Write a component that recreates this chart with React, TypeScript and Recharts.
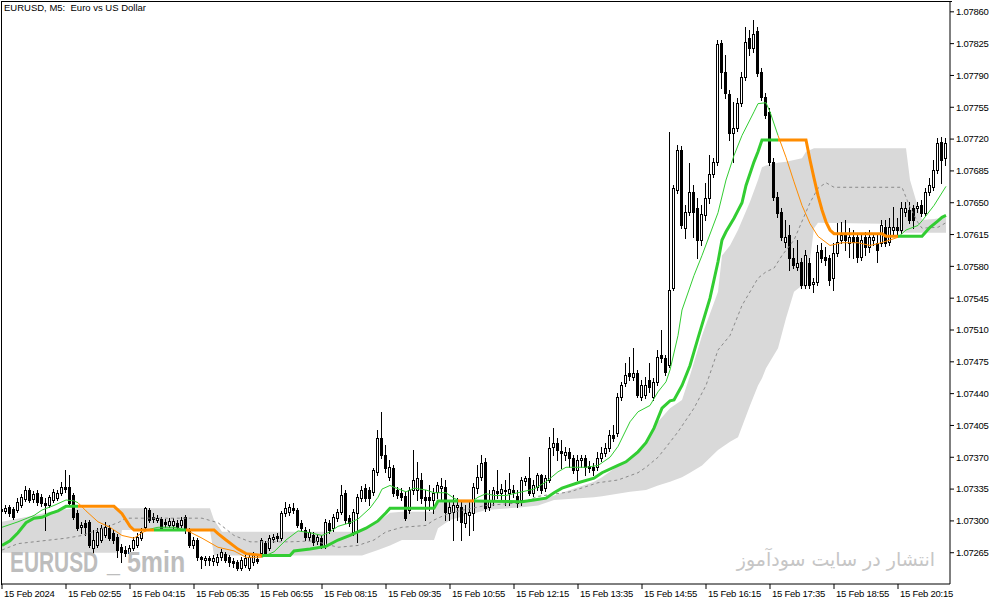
import React from 'react';
import { Area, Bar, ComposedChart, Line, XAxis, YAxis } from 'recharts';

const opens = [
  1.07313, 1.07311, 1.07315, 1.07313, 1.07312, 1.07317, 1.07324, 1.07334, 1.07324, 1.07331,
  1.07326, 1.07320, 1.07317, 1.07323, 1.07325, 1.07331, 1.07337, 1.07337, 1.07328, 1.07309,
  1.07293, 1.07298, 1.07299, 1.07270, 1.07273, 1.07279, 1.07284, 1.07292, 1.07287, 1.07282,
  1.07271, 1.07268, 1.07265, 1.07270, 1.07273, 1.07281, 1.07293, 1.07312, 1.07304, 1.07301,
  1.07302, 1.07299, 1.07295, 1.07295, 1.07298, 1.07295, 1.07304, 1.07290, 1.07273, 1.07279,
  1.07260, 1.07257, 1.07259, 1.07256, 1.07255, 1.07260, 1.07264, 1.07260, 1.07256, 1.07255,
  1.07248, 1.07251, 1.07248, 1.07255, 1.07258, 1.07265, 1.07276, 1.07270, 1.07280, 1.07283,
  1.07281, 1.07309, 1.07310, 1.07314, 1.07312, 1.07298, 1.07290, 1.07282, 1.07284, 1.07278,
  1.07281, 1.07273, 1.07298, 1.07292, 1.07303, 1.07310, 1.07331, 1.07303, 1.07288, 1.07309,
  1.07325, 1.07336, 1.07334, 1.07332, 1.07354, 1.07391, 1.07372, 1.07348, 1.07358, 1.07334,
  1.07331, 1.07327, 1.07312, 1.07334, 1.07334, 1.07345, 1.07326, 1.07326, 1.07323, 1.07332,
  1.07336, 1.07337, 1.07309, 1.07310, 1.07315, 1.07315, 1.07298, 1.07306, 1.07309, 1.07336,
  1.07348, 1.07365, 1.07315, 1.07323, 1.07333, 1.07331, 1.07334, 1.07331, 1.07334, 1.07327,
  1.07323, 1.07344, 1.07347, 1.07331, 1.07337, 1.07350, 1.07336, 1.07345, 1.07381, 1.07386,
  1.07377, 1.07372, 1.07376, 1.07369, 1.07356, 1.07367, 1.07369, 1.07360, 1.07359, 1.07359,
  1.07369, 1.07375, 1.07380, 1.07394, 1.07397, 1.07436, 1.07452, 1.07463, 1.07458, 1.07463,
  1.07436, 1.07438, 1.07455, 1.07436, 1.07453, 1.07482, 1.07479, 1.07471, 1.07556, 1.07664,
  1.07708, 1.07622, 1.07640, 1.07662, 1.07644, 1.07609, 1.07636, 1.07655, 1.07682, 1.07695,
  1.07826, 1.07794, 1.07770, 1.07727, 1.07732, 1.07760, 1.07788, 1.07831, 1.07820, 1.07839,
  1.07794, 1.07766, 1.07750, 1.07695, 1.07656, 1.07640, 1.07607, 1.07614, 1.07589, 1.07579,
  1.07585, 1.07559, 1.07584, 1.07561, 1.07563, 1.07598, 1.07590, 1.07589, 1.07567, 1.07595,
  1.07609, 1.07614, 1.07606, 1.07612, 1.07612, 1.07590, 1.07612, 1.07601, 1.07609, 1.07606,
  1.07606, 1.07623, 1.07607, 1.07620, 1.07623, 1.07620, 1.07640, 1.07642, 1.07644, 1.07644,
  1.07647, 1.07639, 1.07662, 1.07667, 1.07686, 1.07717, 1.07699,
];

const highs = [
  1.07316, 1.07317, 1.07317, 1.07315, 1.07325, 1.07330, 1.07338, 1.07336, 1.07333, 1.07334,
  1.07330, 1.07325, 1.07328, 1.07335, 1.07334, 1.07343, 1.07356, 1.07350, 1.07331, 1.07312,
  1.07299, 1.07301, 1.07301, 1.07290, 1.07292, 1.07295, 1.07299, 1.07295, 1.07290, 1.07286,
  1.07275, 1.07272, 1.07273, 1.07282, 1.07287, 1.07292, 1.07315, 1.07314, 1.07309, 1.07306,
  1.07304, 1.07302, 1.07303, 1.07303, 1.07301, 1.07304, 1.07306, 1.07292, 1.07282, 1.07281,
  1.07261, 1.07261, 1.07261, 1.07262, 1.07264, 1.07269, 1.07266, 1.07262, 1.07259, 1.07257,
  1.07260, 1.07262, 1.07264, 1.07266, 1.07262, 1.07281, 1.07278, 1.07284, 1.07286, 1.07287,
  1.07311, 1.07321, 1.07319, 1.07320, 1.07314, 1.07301, 1.07293, 1.07291, 1.07288, 1.07286,
  1.07284, 1.07302, 1.07301, 1.07308, 1.07313, 1.07339, 1.07334, 1.07306, 1.07313, 1.07330,
  1.07338, 1.07341, 1.07337, 1.07358, 1.07400, 1.07420, 1.07383, 1.07367, 1.07361, 1.07337,
  1.07336, 1.07332, 1.07337, 1.07378, 1.07365, 1.07353, 1.07334, 1.07339, 1.07336, 1.07343,
  1.07347, 1.07345, 1.07321, 1.07328, 1.07325, 1.07323, 1.07317, 1.07323, 1.07342, 1.07361,
  1.07372, 1.07369, 1.07334, 1.07337, 1.07356, 1.07341, 1.07345, 1.07353, 1.07339, 1.07334,
  1.07348, 1.07349, 1.07370, 1.07345, 1.07353, 1.07352, 1.07350, 1.07392, 1.07402, 1.07391,
  1.07389, 1.07381, 1.07380, 1.07372, 1.07372, 1.07372, 1.07372, 1.07366, 1.07364, 1.07376,
  1.07381, 1.07386, 1.07400, 1.07405, 1.07441, 1.07453, 1.07474, 1.07480, 1.07490, 1.07466,
  1.07455, 1.07458, 1.07474, 1.07457, 1.07488, 1.07510, 1.07482, 1.07728, 1.07669, 1.07713,
  1.07712, 1.07647, 1.07694, 1.07669, 1.07655, 1.07647, 1.07672, 1.07702, 1.07699, 1.07829,
  1.07829, 1.07812, 1.07774, 1.07761, 1.07765, 1.07794, 1.07843, 1.07840, 1.07851, 1.07843,
  1.07798, 1.07771, 1.07754, 1.07699, 1.07662, 1.07644, 1.07631, 1.07625, 1.07600, 1.07609,
  1.07589, 1.07598, 1.07589, 1.07567, 1.07603, 1.07606, 1.07601, 1.07592, 1.07606, 1.07628,
  1.07629, 1.07631, 1.07622, 1.07620, 1.07617, 1.07614, 1.07618, 1.07620, 1.07617, 1.07614,
  1.07631, 1.07631, 1.07633, 1.07645, 1.07633, 1.07651, 1.07651, 1.07651, 1.07647, 1.07651,
  1.07653, 1.07666, 1.07677, 1.07697, 1.07721, 1.07722, 1.07721,
];

const lows = [
  1.07309, 1.07309, 1.07305, 1.07302, 1.07310, 1.07315, 1.07322, 1.07321, 1.07321, 1.07317,
  1.07316, 1.07290, 1.07315, 1.07321, 1.07323, 1.07328, 1.07332, 1.07317, 1.07302, 1.07290,
  1.07287, 1.07284, 1.07271, 1.07265, 1.07271, 1.07277, 1.07282, 1.07279, 1.07276, 1.07260,
  1.07255, 1.07261, 1.07262, 1.07268, 1.07271, 1.07279, 1.07290, 1.07299, 1.07299, 1.07299,
  1.07290, 1.07293, 1.07293, 1.07292, 1.07290, 1.07293, 1.07287, 1.07271, 1.07270, 1.07257,
  1.07248, 1.07251, 1.07251, 1.07251, 1.07251, 1.07257, 1.07255, 1.07250, 1.07249, 1.07246,
  1.07246, 1.07249, 1.07246, 1.07251, 1.07254, 1.07261, 1.07261, 1.07268, 1.07277, 1.07278,
  1.07279, 1.07305, 1.07306, 1.07309, 1.07293, 1.07289, 1.07279, 1.07279, 1.07273, 1.07275,
  1.07270, 1.07270, 1.07287, 1.07289, 1.07300, 1.07308, 1.07298, 1.07294, 1.07284, 1.07277,
  1.07322, 1.07322, 1.07317, 1.07328, 1.07350, 1.07369, 1.07354, 1.07345, 1.07327, 1.07325,
  1.07323, 1.07301, 1.07309, 1.07330, 1.07323, 1.07320, 1.07301, 1.07312, 1.07309, 1.07325,
  1.07323, 1.07301, 1.07301, 1.07279, 1.07301, 1.07279, 1.07293, 1.07284, 1.07290, 1.07331,
  1.07345, 1.07311, 1.07312, 1.07317, 1.07325, 1.07323, 1.07317, 1.07317, 1.07326, 1.07315,
  1.07317, 1.07339, 1.07328, 1.07327, 1.07334, 1.07331, 1.07333, 1.07343, 1.07372, 1.07367,
  1.07358, 1.07367, 1.07359, 1.07353, 1.07345, 1.07359, 1.07350, 1.07354, 1.07350, 1.07356,
  1.07366, 1.07371, 1.07377, 1.07388, 1.07393, 1.07433, 1.07448, 1.07455, 1.07455, 1.07436,
  1.07433, 1.07435, 1.07442, 1.07433, 1.07449, 1.07475, 1.07460, 1.07469, 1.07554, 1.07661,
  1.07622, 1.07611, 1.07636, 1.07612, 1.07589, 1.07603, 1.07631, 1.07650, 1.07678, 1.07691,
  1.07776, 1.07765, 1.07719, 1.07695, 1.07729, 1.07756, 1.07785, 1.07812, 1.07816, 1.07789,
  1.07763, 1.07743, 1.07691, 1.07653, 1.07634, 1.07609, 1.07601, 1.07576, 1.07578, 1.07576,
  1.07556, 1.07556, 1.07556, 1.07552, 1.07559, 1.07585, 1.07581, 1.07559, 1.07554, 1.07591,
  1.07606, 1.07598, 1.07590, 1.07589, 1.07585, 1.07587, 1.07592, 1.07596, 1.07603, 1.07585,
  1.07602, 1.07602, 1.07603, 1.07614, 1.07614, 1.07617, 1.07635, 1.07628, 1.07622, 1.07640,
  1.07635, 1.07636, 1.07658, 1.07664, 1.07683, 1.07672, 1.07691,
];

const closes = [
  1.07311, 1.07314, 1.07309, 1.07304, 1.07321, 1.07326, 1.07334, 1.07323, 1.07330, 1.07321,
  1.07320, 1.07317, 1.07326, 1.07332, 1.07331, 1.07337, 1.07335, 1.07320, 1.07304, 1.07292,
  1.07295, 1.07293, 1.07273, 1.07279, 1.07288, 1.07292, 1.07293, 1.07281, 1.07279, 1.07268,
  1.07266, 1.07265, 1.07270, 1.07279, 1.07282, 1.07288, 1.07314, 1.07301, 1.07302, 1.07303,
  1.07292, 1.07297, 1.07300, 1.07300, 1.07293, 1.07301, 1.07290, 1.07273, 1.07279, 1.07260,
  1.07258, 1.07259, 1.07257, 1.07259, 1.07260, 1.07266, 1.07257, 1.07255, 1.07254, 1.07248,
  1.07257, 1.07259, 1.07260, 1.07262, 1.07256, 1.07279, 1.07265, 1.07281, 1.07282, 1.07281,
  1.07309, 1.07314, 1.07315, 1.07312, 1.07295, 1.07292, 1.07282, 1.07288, 1.07277, 1.07282,
  1.07273, 1.07299, 1.07290, 1.07304, 1.07310, 1.07328, 1.07301, 1.07298, 1.07310, 1.07326,
  1.07334, 1.07325, 1.07325, 1.07356, 1.07391, 1.07372, 1.07358, 1.07359, 1.07331, 1.07328,
  1.07326, 1.07303, 1.07334, 1.07345, 1.07347, 1.07325, 1.07323, 1.07323, 1.07331, 1.07339,
  1.07338, 1.07310, 1.07315, 1.07317, 1.07317, 1.07299, 1.07309, 1.07310, 1.07337, 1.07348,
  1.07364, 1.07314, 1.07323, 1.07334, 1.07331, 1.07335, 1.07333, 1.07335, 1.07332, 1.07320,
  1.07345, 1.07347, 1.07331, 1.07339, 1.07350, 1.07334, 1.07347, 1.07380, 1.07386, 1.07378,
  1.07375, 1.07376, 1.07369, 1.07356, 1.07367, 1.07369, 1.07359, 1.07358, 1.07356, 1.07369,
  1.07375, 1.07380, 1.07394, 1.07391, 1.07436, 1.07449, 1.07460, 1.07459, 1.07463, 1.07438,
  1.07449, 1.07449, 1.07447, 1.07453, 1.07480, 1.07479, 1.07464, 1.07554, 1.07666, 1.07708,
  1.07625, 1.07640, 1.07662, 1.07640, 1.07609, 1.07638, 1.07655, 1.07682, 1.07695, 1.07825,
  1.07794, 1.07771, 1.07727, 1.07732, 1.07760, 1.07788, 1.07827, 1.07820, 1.07836, 1.07793,
  1.07766, 1.07746, 1.07695, 1.07656, 1.07639, 1.07612, 1.07612, 1.07589, 1.07581, 1.07584,
  1.07559, 1.07592, 1.07559, 1.07563, 1.07596, 1.07589, 1.07587, 1.07565, 1.07595, 1.07607,
  1.07614, 1.07609, 1.07612, 1.07607, 1.07590, 1.07609, 1.07601, 1.07612, 1.07612, 1.07598,
  1.07625, 1.07606, 1.07623, 1.07623, 1.07620, 1.07644, 1.07644, 1.07631, 1.07631, 1.07646,
  1.07639, 1.07662, 1.07669, 1.07686, 1.07716, 1.07697, 1.07716,
];

const timeTicks = [0, 16, 32, 48, 64, 80, 96, 112, 128, 144, 160, 176, 192, 208, 224];
const timeLabels = [
  '15 Feb 2024', '15 Feb 02:55', '15 Feb 04:15', '15 Feb 05:35', '15 Feb 06:55',
  '15 Feb 08:15', '15 Feb 09:35', '15 Feb 10:55', '15 Feb 12:15', '15 Feb 13:35',
  '15 Feb 14:55', '15 Feb 16:15', '15 Feb 17:35', '15 Feb 18:55', '15 Feb 20:15',
];

const priceTicks = [
  1.07265, 1.073, 1.07335, 1.0737, 1.07405, 1.0744, 1.07475, 1.0751, 1.07545,
  1.0758, 1.07615, 1.0765, 1.07685, 1.0772, 1.07755, 1.0779, 1.07825, 1.0786,
];

// thick trend line: green while rising, orange while falling  [bar, price]
const trendUp = [
  [[0, 1.07273], [2, 1.07278], [4, 1.07287], [6, 1.07298], [8, 1.07303], [10, 1.07304], [12, 1.07308], [14, 1.07311], [16, 1.07316], [19, 1.07316]],
  [[38, 1.0729], [46, 1.0729]],
  [[65, 1.07262], [72, 1.07262], [73, 1.07267], [77, 1.07269], [81, 1.07272], [84, 1.07279], [87, 1.07284], [91, 1.07292], [94, 1.073], [96, 1.07309], [97, 1.07314], [108, 1.07314], [109, 1.07322], [114, 1.07322]],
  [[118, 1.07322], [130, 1.07321], [133, 1.07323], [136, 1.07325], [138, 1.07331], [140, 1.07336], [144, 1.07342], [148, 1.07347], [150, 1.07353], [154, 1.07361], [156, 1.07365], [159, 1.07376], [161, 1.07386], [163, 1.07402], [165, 1.07424], [167, 1.07432], [168, 1.07433], [170, 1.07449], [172, 1.07471], [174, 1.07501], [177, 1.07545], [179, 1.07585], [180, 1.07609], [181, 1.07618], [183, 1.07633], [185, 1.0765], [186, 1.07669], [188, 1.07695], [189, 1.07706], [190, 1.07719], [194, 1.07719]],
  [[224, 1.07613], [230, 1.07613], [232, 1.07623], [234, 1.0763], [235, 1.07634], [236, 1.07636]],
];
const trendDown = [
  [[19, 1.07316], [28, 1.07316], [30, 1.07308], [32, 1.07294], [33, 1.0729], [38, 1.0729]],
  [[46, 1.0729], [53, 1.0729], [54, 1.07286], [56, 1.07279], [59, 1.07269], [61, 1.07264], [65, 1.07262]],
  [[114, 1.07322], [118, 1.07322]],
  [[194, 1.07719], [201, 1.07719], [202, 1.07697], [203, 1.07677], [204, 1.07658], [205, 1.07642], [206, 1.07629], [207, 1.0762], [208, 1.07616], [220, 1.07616], [221, 1.07613], [224, 1.07613]],
];

// thin fast line
const fastUp = [
  [[0, 1.07293], [4, 1.07299], [8, 1.07306], [10, 1.07312], [13, 1.07317], [16, 1.07323], [18, 1.07322], [19, 1.0732]],
  [[37, 1.07291], [39, 1.07293], [43, 1.07293], [46, 1.0729]],
  [[65, 1.0726], [68, 1.07266], [71, 1.07279], [74, 1.07289], [77, 1.07287], [80, 1.07284], [82, 1.07288], [84, 1.07294], [87, 1.07298], [89, 1.07302], [92, 1.07314], [94, 1.07326], [95, 1.07335], [97, 1.07339], [98, 1.07337], [101, 1.07332], [103, 1.07336], [106, 1.07334], [108, 1.07331], [111, 1.07331], [113, 1.07325], [114, 1.07323]],
  [[118, 1.07323], [119, 1.07326], [121, 1.0733], [123, 1.07328], [126, 1.07328], [130, 1.07332], [133, 1.07335], [136, 1.07343], [139, 1.07354], [141, 1.07359], [146, 1.07359], [149, 1.07361], [152, 1.0737], [154, 1.07382], [157, 1.07409], [159, 1.0742], [162, 1.07427], [164, 1.07442], [166, 1.07453], [167, 1.07466], [169, 1.07504], [170, 1.07532], [173, 1.0757], [175, 1.07592], [179, 1.07639], [181, 1.07675], [183, 1.07702], [185, 1.07724], [188, 1.0775], [189, 1.07759], [191, 1.0776], [192, 1.0775], [194, 1.07724]],
  [[224, 1.07612], [226, 1.0762], [229, 1.07625], [230, 1.0763], [233, 1.07647], [236, 1.07668]],
];
const fastDown = [
  [[19, 1.0732], [21, 1.07311], [24, 1.07299], [27, 1.07293], [30, 1.07284], [33, 1.07281], [35, 1.07287], [37, 1.07291]],
  [[46, 1.0729], [50, 1.07281], [54, 1.07271], [58, 1.07267], [61, 1.0726], [65, 1.0726]],
  [[114, 1.07323], [115, 1.07321], [117, 1.07321], [118, 1.07323]],
  [[194, 1.07724], [196, 1.077], [198, 1.07673], [200, 1.07647], [202, 1.07627], [204, 1.07613], [207, 1.07603], [210, 1.07606], [214, 1.07606], [217, 1.07603], [219, 1.07605], [222, 1.07609], [224, 1.07612]],
];

// grey channel  [bar, upper, lower]
const channel = [
  [0, 1.07299, 1.07265], [8, 1.07306, 1.07265], [14, 1.07312, 1.07265], [19, 1.07314, 1.07265], [29, 1.07314, 1.07265],
  [30, 1.07314, 1.0729], [52, 1.07314, 1.0729], [53, 1.07301, 1.07262], [55, 1.07288, 1.07262], [88, 1.07288, 1.07262],
  [90, 1.0729, 1.07262], [94, 1.07299, 1.07268], [97, 1.07309, 1.07273], [100, 1.0731, 1.07279], [108, 1.0731, 1.07279],
  [109, 1.0732, 1.07292], [112, 1.07321, 1.07301], [121, 1.07321, 1.07312], [130, 1.07321, 1.07315], [134, 1.07323, 1.07317],
  [138, 1.07328, 1.07323], [148, 1.07343, 1.07326], [150, 1.07348, 1.07327], [157, 1.0737, 1.07332], [161, 1.07386, 1.07334],
  [164, 1.07409, 1.07339], [167, 1.07424, 1.07343], [170, 1.07433, 1.07348], [172, 1.0746, 1.07353], [175, 1.07504, 1.07361],
  [179, 1.07552, 1.07378], [180, 1.07592, 1.07381], [182, 1.07603, 1.07387], [184, 1.0762, 1.07392], [187, 1.07651, 1.07427],
  [189, 1.07675, 1.07449], [190, 1.07689, 1.07457], [191, 1.07691, 1.07468], [194, 1.07694, 1.0749], [196, 1.07695, 1.07523],
  [198, 1.07697, 1.07552], [200, 1.07699, 1.07559], [201, 1.07706, 1.07557], [202, 1.07708, 1.07587], [203, 1.0771, 1.07622],
  [204, 1.0771, 1.07628], [220, 1.0771, 1.07627], [222, 1.0771, 1.0762], [226, 1.0771, 1.07617], [227, 1.07675, 1.07617],
  [229, 1.07645, 1.07617], [230, 1.07631, 1.07617], [233, 1.07632, 1.07617], [236, 1.07634, 1.07617],
];

const channelMid = [
  [0, 1.07268], [4, 1.07275], [10, 1.07278], [16, 1.07281], [20, 1.07284], [24, 1.0729], [29, 1.07298], [31, 1.07303],
  [50, 1.07303], [54, 1.07298], [58, 1.07284], [62, 1.07277], [72, 1.07277], [78, 1.07278], [84, 1.07271], [89, 1.07273],
  [93, 1.07279], [96, 1.07288], [100, 1.07293], [106, 1.07295], [108, 1.07301], [112, 1.07309], [121, 1.07317], [130, 1.0732],
  [134, 1.07327], [142, 1.07332], [149, 1.07342], [154, 1.07345], [159, 1.07353], [161, 1.07359], [164, 1.0737], [166, 1.07381],
  [169, 1.07398], [173, 1.07424], [176, 1.07449], [179, 1.07488], [182, 1.07504], [185, 1.07537], [189, 1.07567], [191, 1.07574],
  [193, 1.07578], [195, 1.07592], [198, 1.07609], [202, 1.0765], [204, 1.07666], [206, 1.07672], [208, 1.07667], [225, 1.07667],
  [227, 1.07645], [229, 1.07628], [230, 1.07622], [234, 1.07623], [236, 1.07628],
];

const candles = opens.map((o, i) => ({ i, o, h: highs[i], l: lows[i], c: closes[i], range: [lows[i], highs[i]] }));
const toPoints = (seg: number[][]) => seg.map(([i, v]) => ({ i, v }));

const GREEN = '#32cd32';
const ORANGE = '#ff8c00';
const AXIS_FONT = '"Liberation Sans", Arial, sans-serif';

const Candle = (props: any) => {
  const { x, y, width, height, payload } = props;
  const { o, h, l, c } = payload;
  const mid = Math.floor(x + width / 2) + 0.5;
  const toY = (p: number) => y + ((h - p) / (h - l)) * height;
  const top = Math.round(toY(Math.max(o, c))) + 0.5;
  const bottom = Math.round(toY(Math.min(o, c))) + 0.5;
  return (
    <g>
      <line x1={mid} x2={mid} y1={Math.round(y)} y2={Math.round(y + height) + 1} stroke="#000" strokeWidth={1} />
      <rect x={mid - 1} y={top} width={2} height={Math.max(bottom - top, 0)} fill={c >= o ? '#fff' : '#000'} stroke="#000" strokeWidth={1} />
    </g>
  );
};

const XTick = ({ x, y, payload }: any) => (
  <text x={x + 2} y={y} dy="0.71em" fontSize={9.5} fontFamily={AXIS_FONT} letterSpacing={-0.25} fill="#000">
    {timeLabels[timeTicks.indexOf(payload.value)]}
  </text>
);

const YTick = ({ x, y, payload }: any) => (
  <text x={x} y={y} dy="0.35em" fontSize={9.5} fontFamily={AXIS_FONT} letterSpacing={-0.25} fill="#000">
    {payload.value.toFixed(5)}
  </text>
);

export default function App() {
  return (
    <div style={{ position: 'absolute', left: 0, top: 0, width: 1003, height: 605, background: '#fff', overflow: 'hidden' }}>
      <ComposedChart width={1003} height={605} data={candles} margin={{ top: 2, right: 1, bottom: 1, left: 2 }}>
        <XAxis
          dataKey="i"
          type="number"
          domain={[0, 237]}
          allowDataOverflow
          ticks={timeTicks}
          interval={0}
          tick={XTick}
          tickSize={5}
          tickMargin={1}
          tickLine={{ stroke: '#000' }}
          axisLine={{ stroke: '#000' }}
          height={20}
        />
        <YAxis
          orientation="right"
          type="number"
          domain={[1.072306, 1.078708]}
          allowDataOverflow
          ticks={priceTicks}
          interval={0}
          tick={YTick}
          tickSize={4}
          tickMargin={2}
          tickLine={{ stroke: '#000' }}
          axisLine={{ stroke: '#000' }}
          width={52}
        />
        <Area
          data={channel.map(([i, hi, lo]) => ({ i, r: [lo, hi] }))}
          dataKey="r"
          fill="#d9d9d9"
          fillOpacity={1}
          stroke="none"
          isAnimationActive={false}
        />
        <Line data={toPoints(channelMid)} dataKey="v" stroke="#8a8a8a" strokeWidth={1} strokeDasharray="3 3" dot={false} isAnimationActive={false} />
        <Bar dataKey="range" barSize={3} shape={Candle} isAnimationActive={false} />
        {fastUp.map((seg, k) => (
          <Line key={`fu${k}`} data={toPoints(seg)} dataKey="v" stroke={GREEN} strokeWidth={1} dot={false} isAnimationActive={false} />
        ))}
        {fastDown.map((seg, k) => (
          <Line key={`fd${k}`} data={toPoints(seg)} dataKey="v" stroke={ORANGE} strokeWidth={1} dot={false} isAnimationActive={false} />
        ))}
        {trendUp.map((seg, k) => (
          <Line key={`tu${k}`} data={toPoints(seg)} dataKey="v" stroke={GREEN} strokeWidth={3} dot={false} isAnimationActive={false} />
        ))}
        {trendDown.map((seg, k) => (
          <Line key={`td${k}`} data={toPoints(seg)} dataKey="v" stroke={ORANGE} strokeWidth={3} dot={false} isAnimationActive={false} />
        ))}
      </ComposedChart>
      <div style={{ position: 'absolute', left: 1, top: 1, width: 950, height: 583, borderLeft: '1px solid #000', borderTop: '1px solid #000', pointerEvents: 'none' }} />
      <div style={{ position: 'absolute', left: 4, top: 2, fontFamily: AXIS_FONT, fontSize: 9.5, lineHeight: '11px', color: '#000', whiteSpace: 'pre' }}>
        {'EURUSD, M5:  Euro vs US Dollar'}
      </div>
      <div style={{ position: 'absolute', left: 10, top: 548, fontFamily: AXIS_FONT, fontWeight: 'bold', fontSize: 29, lineHeight: '29px', color: '#bdbdbd', transform: 'scaleX(0.72)', transformOrigin: 'left top', whiteSpace: 'nowrap' }}>
        EURUSD
      </div>
      <div style={{ position: 'absolute', left: 107, top: 548, fontFamily: AXIS_FONT, fontWeight: 'bold', fontSize: 29, lineHeight: '29px', color: '#bdbdbd', transform: 'scaleX(0.8)', transformOrigin: 'left top', whiteSpace: 'nowrap' }}>
        _
      </div>
      <div style={{ position: 'absolute', left: 127, top: 548, fontFamily: AXIS_FONT, fontWeight: 'bold', fontSize: 29, lineHeight: '29px', color: '#bdbdbd', transform: 'scaleX(0.86)', transformOrigin: 'left top', whiteSpace: 'nowrap' }}>
        5min
      </div>
      <div style={{ position: 'absolute', right: 68, top: 550, fontFamily: '"DejaVu Sans", sans-serif', fontSize: 19, lineHeight: '19px', color: '#c6c6c6', direction: 'rtl', whiteSpace: 'nowrap' }}>
        انتشار در سایت سودآموز
      </div>
    </div>
  );
}
